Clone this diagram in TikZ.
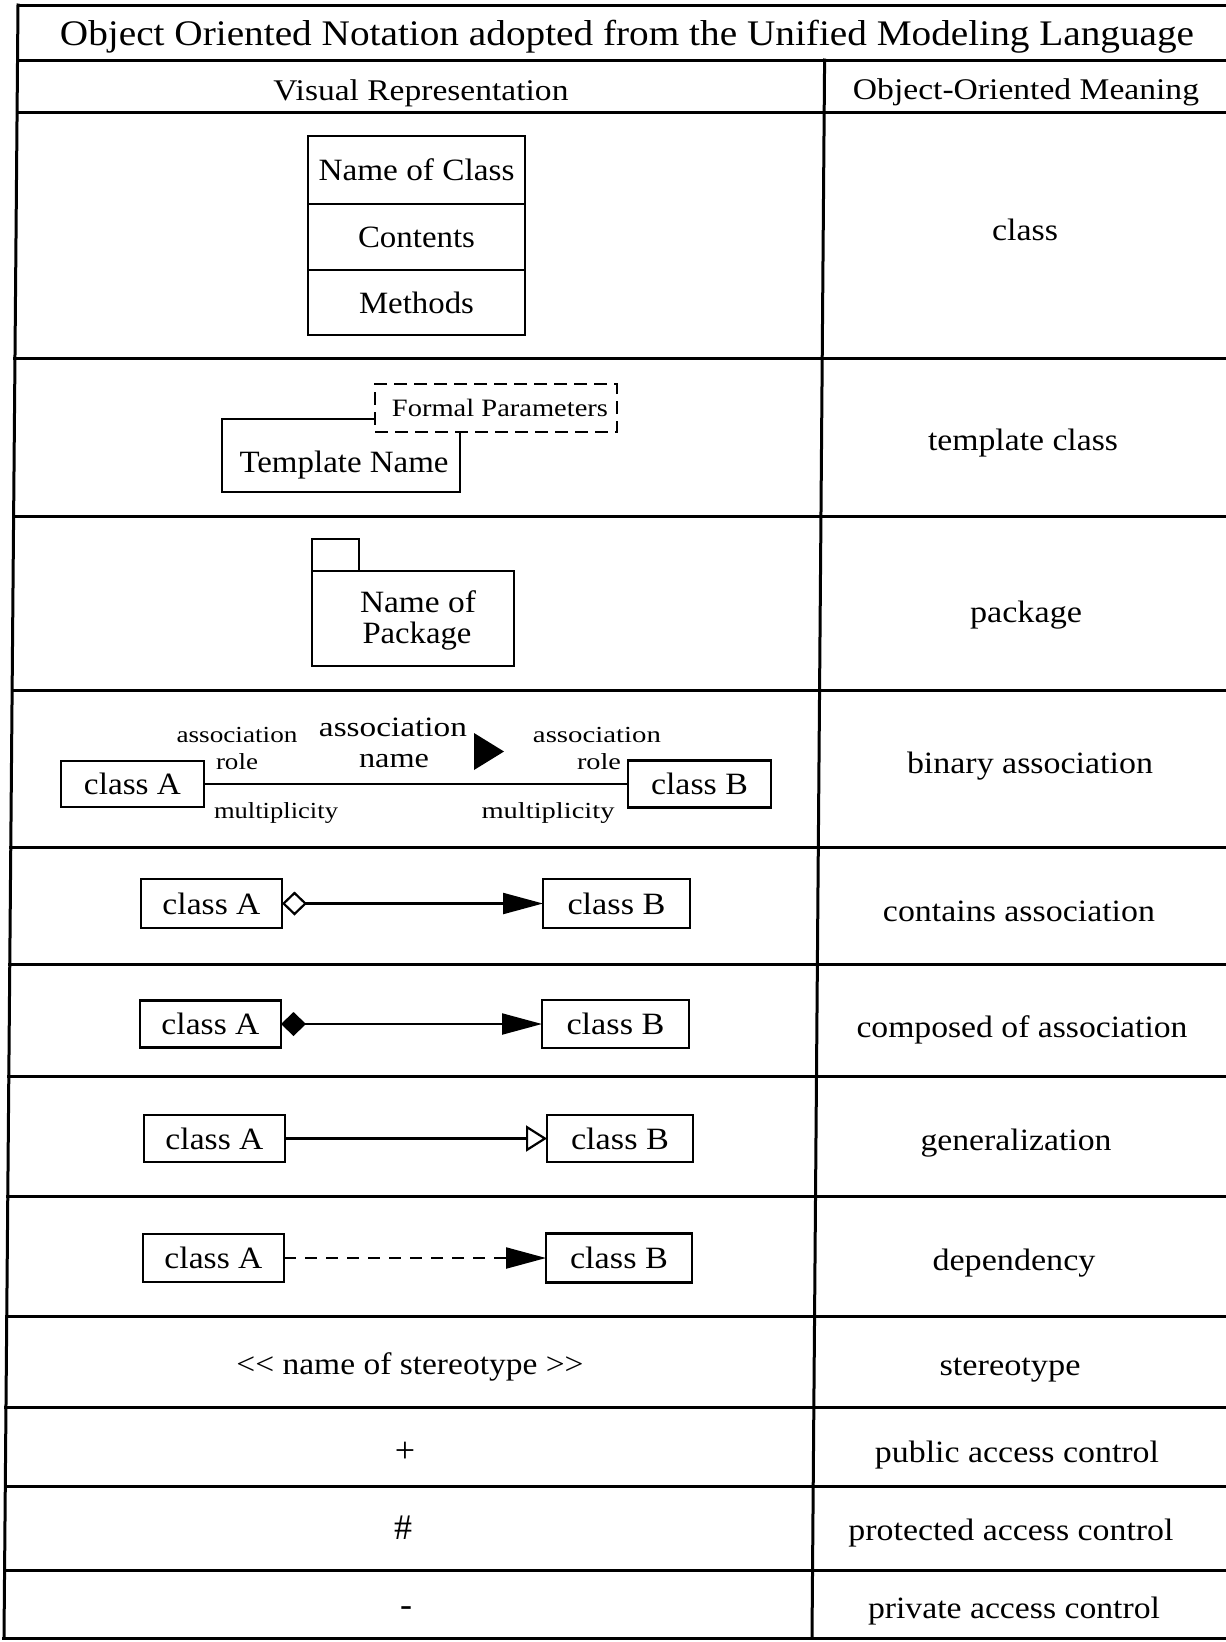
\documentclass[tikz,border=0pt]{standalone}
\usepackage{fontspec}
\setmainfont{Liberation Serif}
\usetikzlibrary{arrows.meta}
% set a text at its natural height but a given width (in pt)
\newcommand\tw[2]{\resizebox{#1pt}{\height}{#2}}
\newcommand\fs[1]{\fontsize{#1}{#1}\selectfont}
\begin{document}
\begin{tikzpicture}[x=1pt,y=-1pt,
  rule/.style={line width=3pt, line cap=rect},
  txt/.style={inner sep=0pt, outer sep=0pt, anchor=base},
  body/.style={txt, font=\fs{31}},
  small/.style={txt, font=\fs{23}},
  sym/.style={txt, font=\fs{36}},
  cls/.style={draw, line width=2.8pt, inner sep=0pt, outer sep=0pt, font=\fs{31}},
  boxline/.style={line width=2.8pt, line join=miter},
  conn/.style={line width=2.2pt},
  fill arrow/.style={-{Triangle[length=40pt,width=21pt]}},
]
\useasboundingbox (0,0) rectangle (1226,1642);

% ---- table rules ----
\coordinate (tl) at (18,5);
\coordinate (bl) at (4,1638);
\coordinate (dt) at (824.6,60);
\coordinate (db) at (812,1638);
\draw[rule] (tl) -- (bl);
\draw[rule] (dt) -- (db);
\foreach \yy in {5,60,112,358,516,690,847,964,1076,1196,1316,1407,1486,1570,1638}{
  \pgfmathsetmacro\xl{18-0.008573*(\yy-5)}
  \draw[rule] (\xl,\yy) -- (1230,\yy);
}

% ---- headings ----
\node[txt, font=\fs{36}] (title) at (627,45)
  {\tw{1134}{Object Oriented Notation adopted from the Unified Modeling Language}};
\node[txt, font=\fs{30}] (hvis) at (421,100) {\tw{295}{Visual Representation}};
\node[txt, font=\fs{30}] (hmean) at (1026,99) {\tw{346}{Object-Oriented Meaning}};

% ---- class ----
\node[cls, minimum width=217pt, minimum height=68pt] (nc1) at (416.5,170) {\tw{196}{Name of Class}};
\node[cls, minimum width=217pt, minimum height=66pt, anchor=north] (nc2) at (nc1.south) {\tw{117}{Contents}};
\node[cls, minimum width=217pt, minimum height=65pt, anchor=north] (nc3) at (nc2.south) {\tw{115}{Methods}};
\node[body] (m1) at (1025,240) {\tw{66}{class}};

% ---- template class ----
\node[cls, dash pattern=on 13pt off 7pt, minimum width=242pt, minimum height=48pt] (fp) at (496,408) {};
\node[txt, font=\fs{25}] (fpt) at (500,416) {\tw{216}{Formal Parameters}};
\node[inner sep=0pt, outer sep=0pt, minimum width=238pt, minimum height=73pt] (tn) at (341,455.5) {};
\draw[boxline] (fp.west |- tn.north) -- (tn.north west) -- (tn.south west)
  -- (tn.south east) -- (tn.east |- fp.south);
\node[body] (tnt) at (344,472) {\tw{209}{Template Name}};
\node[body] (m2) at (1023,450) {\tw{190}{template class}};

% ---- package ----
\node[cls, minimum width=202pt, minimum height=95pt] (pkg) at (413,618.5) {};
\draw[boxline] (pkg.north west) rectangle ++(47,-32);
\node[body] (pk1) at (418,612) {\tw{116}{Name of}};
\node[body] (pk2) at (417,643) {\tw{109}{Package}};
\node[body] (m3) at (1026,622) {\tw{112}{package}};

% ---- binary association ----
\node[cls, minimum width=143pt, minimum height=46pt] (ba) at (132.5,784) {\tw{97}{class A}};
\node[cls, minimum width=143pt, minimum height=47pt] (bb) at (699.5,784) {\tw{97}{class B}};
\draw[conn] (ba) -- (bb);
\node[small] (al1) at (237,742) {\tw{121}{association}};
\node[small] (al2) at (237,769) {\tw{42}{role}};
\node[small] (al3) at (276,818) {\tw{124}{multiplicity}};
\node[txt, font=\fs{28}] (an1) at (393,736) {\tw{148}{association}};
\node[txt, font=\fs{28}] (an2) at (394,767) {\tw{70}{name}};
\fill (474,733) -- (504,751.5) -- (474,770) -- cycle;
\node[small] (ar1) at (597,742) {\tw{128}{association}};
\node[small] (ar2) at (599,769) {\tw{44}{role}};
\node[small] (ar3) at (548,818) {\tw{133}{multiplicity}};
\node[body] (m4) at (1030,773) {\tw{246}{binary association}};

% ---- contains association ----
\node[cls, minimum width=141pt, minimum height=49pt] (ca) at (211.5,903.5) {\tw{98}{class A}};
\node[cls, minimum width=147pt, minimum height=49pt] (cb) at (616.5,903.5) {\tw{98}{class B}};
\draw[conn, {Diamond[open,length=25pt,width=24pt]}-{Triangle[length=40pt,width=21pt]}] (ca) -- (cb);
\node[body] (m5) at (1019,921) {\tw{272}{contains association}};

% ---- composed of association ----
\node[cls, minimum width=141pt, minimum height=47pt] (pa) at (210.5,1024) {\tw{98}{class A}};
\node[cls, minimum width=147pt, minimum height=48pt] (pb) at (615.5,1024) {\tw{98}{class B}};
\draw[conn, {Diamond[length=25pt,width=24pt]}-{Triangle[length=40pt,width=21pt]}] (pa) -- (pb);
\node[body] (m6) at (1022,1037) {\tw{331}{composed of association}};

% ---- generalization ----
\node[cls, minimum width=141pt, minimum height=47pt] (ga) at (214.5,1138.5) {\tw{98}{class A}};
\node[cls, minimum width=146pt, minimum height=47pt] (gb) at (620,1138.5) {\tw{98}{class B}};
\draw[conn, -{Triangle[open,length=21pt,width=26pt]}] (ga) -- (gb);
\node[body] (m7) at (1016,1150) {\tw{191}{generalization}};

% ---- dependency ----
\node[cls, minimum width=141pt, minimum height=48pt] (da) at (213.5,1258) {\tw{98}{class A}};
\node[cls, minimum width=146pt, minimum height=49pt] (db2) at (619,1258) {\tw{98}{class B}};
\draw[conn, dash pattern=on 12pt off 9pt, fill arrow] (da) -- (db2);
\node[body] (m8) at (1014,1270) {\tw{163}{dependency}};

% ---- stereotype and access control ----
\node[body] (st) at (410,1374) {\tw{347}{<\kern0pt< name of stereotype >\kern0pt>}};
\node[body] (m9) at (1010,1375) {\tw{141}{stereotype}};
\node[sym] (plus) at (405,1462) {+};
\node[body] (m10) at (1017,1462) {\tw{284}{public access control}};
\node[sym] (hash) at (403,1539) {\#};
\node[body] (m11) at (1011,1540) {\tw{325}{protected access control}};
\node[sym] (minus) at (406,1616) {-};
\node[body] (m12) at (1014,1618) {\tw{292}{private access control}};
\end{tikzpicture}
\end{document}
